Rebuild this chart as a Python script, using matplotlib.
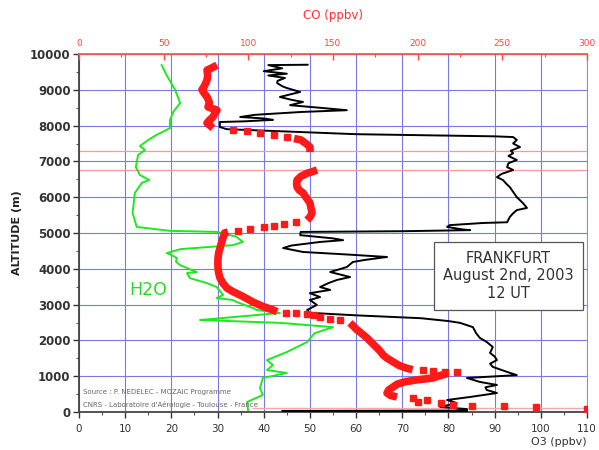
import numpy as np
import matplotlib
matplotlib.use("Agg")
import matplotlib.pyplot as plt
from matplotlib.ticker import MultipleLocator

# ---------------- data ----------------
o3_alt = [9700, 9690, 9600, 9520, 9450, 9400, 9330, 9250, 9190, 9100, 9050, 8940, 8880, 8800, 8720,
          8660, 8570, 8500, 8430, 8380, 8300, 8240, 8200, 8160, 8120, 8100, 7960, 7900, 7760, 7700,
          7680, 7600, 7500, 7400, 7300, 7230, 7150, 7040, 6950, 6840, 6760, 6650, 6560, 6480, 6380,
          6280, 6150, 6000, 5840, 5700, 5640, 5550, 5450, 5300, 5280, 5220, 5170, 5100, 5080, 5050,
          5030, 4940, 4850, 4800, 4750, 4650, 4580, 4470, 4400, 4330, 4250, 4190, 4050, 3910, 3770,
          3690, 3600, 3490, 3410, 3320, 3210, 3130, 2990, 2850, 2770, 2700, 2620, 2540, 2490, 2370,
          2200, 2070, 1955, 1815, 1650, 1550, 1450, 1350, 1260, 1120, 1030, 980, 950, 840, 755,
          690, 615, 530, 420, 335, 250, 140, 80, 40, 30, 15, 10]
o3_val = [49.5, 41, 44, 40, 45, 41, 44.6, 43, 42.9, 44, 45, 47.9, 46, 43.5, 46,
          48.5, 45.7, 52, 58, 48, 38, 34.9, 40, 42, 36, 30.5, 30.5, 32, 60, 90,
          94, 94.8, 94, 95.5, 93.5, 94, 93, 94.8, 93, 92.7, 94, 91.5, 90.5, 91.8, 92.5,
          93.3, 94, 94.8, 96.1, 97, 94.8, 94, 93.3, 92.7, 87.5, 80.3, 79.7, 83, 84.7, 70,
          48, 47.9, 55, 57.2, 52.2, 46, 44.2, 48.5, 58, 66.7, 62, 59.3, 58, 54.4, 58.7,
          55.9, 54, 52.2, 54.4, 50, 52.2, 50, 51.5, 49.4, 50, 60, 74, 80, 82.5, 85.3,
          86, 86.8, 88.3, 89.6, 89, 90, 90.5, 89, 89.6, 92.7, 94.8, 88, 84, 86.8, 90.5,
          88, 88.3, 90.5, 84.7, 79.7, 81.8, 78.2, 84, 84, 44, 70, 84]

h2o_alt = [9690, 9400, 9000, 8630, 8400, 8160, 7930, 7740, 7600, 7430, 7320, 7180, 6840, 6620,
           6480, 6400, 6120, 5560, 5170, 5060, 5030, 4900, 4750, 4660, 4550, 4440, 4385, 4300,
           4200, 4100, 3910, 3880, 3740, 3600, 3490, 3270, 3180, 3130, 3070, 2900, 2850, 2765,
           2570, 2490, 2370, 2200, 1955, 1675, 1450, 1310, 1170, 1090, 950, 670, 475, 280, 50]
h2o_val = [17.9, 19, 20.8, 21.9, 20.5, 19.7, 19.7, 16.8, 15.0, 13.2, 14.3, 12.8, 12.3, 13.2,
           15.2, 13.6, 12.1, 11.6, 12.5, 19.7, 29.9, 34, 35.5, 33.3, 22, 19, 20, 21.2,
           21, 21.9, 25.5, 23.4, 24, 27.7, 29.8, 31.2, 29.8, 33.3, 34.2, 37.7, 38.5, 43.5,
           26.2, 43.5, 55, 51, 49.4, 45, 40.7, 42, 40.7, 45, 39.8, 39.2, 39.8, 36.4, 36.6]

# CO: dense parts of the profile (NaN = gap) and sparse single measurements
co_dense_alt = [9690, 9600, 9550, 9400, 9270, 9100, 9000, 8900, 8800, 8650, 8520, 8430, 8320, 8240,
                8150, 8070, 7930, np.nan,
                7640, 7600, 7500, 7400, 7260, np.nan,
                6760, 6700, 6670, 6580, 6480, 6380, 6280, 6200, 6120, 6000, 5840, 5700, 5560, 5450,
                5360, np.nan,
                5030, 5000, 4860, 4700, 4580, 4450, 4300, 4150, 4020, 3880, 3740, 3600, 3460, 3360,
                3270, 3170, 3070, 2960, 2850, 2800, np.nan,
                2490, 2400, 2300, 2230, 2150, 2070, 1930, 1790, 1690, 1590, 1500, 1400, 1300, 1230,
                1180, np.nan,
                1080, 1000, 950, 900, 850, 780, 700, 620, 530, 460, 420]
co_dense_val = [81.5, 78, 75.6, 76, 75.6, 74, 72.6, 74, 75.6, 77, 76.2, 81.5, 80, 79.1,
                77, 75.6, 79.1, np.nan,
                127, 131, 134, 136.4, 136.4, np.nan,
                140.6, 137, 134.7, 131, 128.8, 128.5, 128.8, 130, 132.3, 134, 136.4, 137, 137.6, 136.5,
                134.7, np.nan,
                88, 86, 85, 84, 83.3, 82.5, 82.1, 82, 82.1, 82.5, 83.3, 85, 87.4, 91,
                95, 99, 102.8, 108, 114.6, 117, np.nan,
                160, 162, 164, 166, 168, 170, 173, 176, 178, 179.6, 182, 185.5, 189, 193,
                197, np.nan,
                218, 212, 209, 200, 193, 188, 185.5, 183, 181.9, 184, 187.8]
co_sparse_alt = [7880, 7840, 7790, 7740, 7680, 5300, 5260, 5200, 5160, 5100, 5060,
                 2770, 2760, 2740, 2700, 2650, 2600, 2570, 1170, 1150, 1130, 1120,
                 390, 335, 280, 250, 195, 170, 170, 140, 85]
co_sparse_val = [91, 99, 107, 115, 122.9, 128, 121, 115, 109, 101, 94,
                 122, 128, 134.7, 139, 142.3, 148, 154, 203, 209, 216, 223,
                 197, 205.5, 200, 214, 221, 232, 251, 270, 300]

flag_levels = [7290, 6760]
ground_flag_alt = 110
ground_flag_start = 37.5

o3_ticks = list(range(0, 111, 10))
co_ticks = list(range(0, 301, 50))
alt_ticks = list(range(0, 10001, 1000))

# ---------------- figure ----------------
fig = plt.figure(figsize=(5.99, 4.5), dpi=100)
ax = fig.add_axes([79/599, 1-412/450, 508/599, 358/450])
ax.set_xlim(0, 110)
ax.set_ylim(0, 10000)

grid_c = '#7878e8'
ax.set_xticks(o3_ticks)
ax.set_yticks(alt_ticks)
ax.xaxis.set_minor_locator(MultipleLocator(5))
ax.yaxis.set_minor_locator(MultipleLocator(500))
ax.grid(True, which='major', color=grid_c, linewidth=0.8)
ax.set_axisbelow(True)

for lvl in flag_levels:
    ax.axhline(lvl, color='#f49a9a', linewidth=0.9, zorder=1.5)
ax.hlines(ground_flag_alt, ground_flag_start, 110, color='#f7a8a8', linewidth=1.0, zorder=1.5)

ax.plot(h2o_val, h2o_alt, color='#1fe81f', linewidth=1.4, zorder=3)
ax.plot(o3_val, o3_alt, color='black', linewidth=1.4, zorder=4)

ax.tick_params(axis='y', which='major', direction='out', length=4, width=1,
               labelsize=8.5, colors='#333333', pad=2)
ax.tick_params(axis='y', which='minor', direction='out', length=2.5, width=0.8, colors='#555555')
ax.tick_params(axis='x', which='major', direction='out', length=4, width=1,
               labelsize=7.5, colors='#333333', pad=5)
ax.tick_params(axis='x', which='minor', direction='out', length=2.5, width=0.8, colors='#555555')
for lab in ax.get_yticklabels():
    lab.set_fontweight('bold')
for s in ['left', 'bottom']:
    ax.spines[s].set_color('#444444')
    ax.spines[s].set_linewidth(1.3)
ax.spines['right'].set_color('#999999')
ax.spines['right'].set_linewidth(0.8)

ax.set_ylabel('ALTITUDE (m)', fontsize=8, fontweight='bold', color='#222222', labelpad=6)
ax.text(1.0, -0.069, 'O3 (ppbv)', transform=ax.transAxes, ha='right', va='top',
        fontsize=8, color='#333333')

# CO top axis
ax2 = ax.twiny()
ax2.set_xlim(0, 300)
ax2.set_ylim(0, 10000)
ax2.set_xticks(co_ticks)
ax2.xaxis.set_minor_locator(MultipleLocator(25))
ax2.tick_params(axis='x', which='major', direction='in', length=4, width=1,
                labelsize=6.5, colors='#ff4444', labelcolor='#ff4444', pad=4)
ax2.tick_params(axis='x', which='minor', direction='in', length=2.5, width=0.8, colors='#ff4444')
ax2.spines['top'].set_color('#ff6060')
ax2.spines['top'].set_linewidth(1.3)
for s in ['left', 'bottom', 'right']:
    ax2.spines[s].set_visible(False)
ax2.set_xlabel('CO (ppbv)', fontsize=8.5, color='#ff3030', labelpad=15)

ax2.plot(co_dense_val, co_dense_alt, color='#ff1a1a', linewidth=5.5,
         solid_capstyle='butt', solid_joinstyle='round', zorder=3)
ax2.plot(co_sparse_val, co_sparse_alt, linestyle='none', marker='s', markersize=4.5,
         color='#ff1a1a', zorder=3)

# annotations
ax.text(93, 3800, 'FRANKFURT\nAugust 2nd, 2003\n12 UT', ha='center', va='center',
        fontsize=10.5, color='#333333', linespacing=1.2, zorder=6,
        bbox=dict(boxstyle='square,pad=0.6', facecolor='white', edgecolor='#555555', linewidth=0.9))
ax.text(15, 3400, 'H2O', ha='center', va='center', fontsize=12.5, color='#22dd22', zorder=6)
ax.text(0.8, 560, 'Source : P. NEDELEC - MOZAIC Programme', fontsize=5.0, color='#666666',
        ha='left', va='center', zorder=6)
ax.text(0.8, 200, "CNRS - Laboratoire d'Aérologie - Toulouse - France", fontsize=5.0,
        color='#666666', ha='left', va='center', zorder=6)

fig.savefig('out.png', dpi=100)
